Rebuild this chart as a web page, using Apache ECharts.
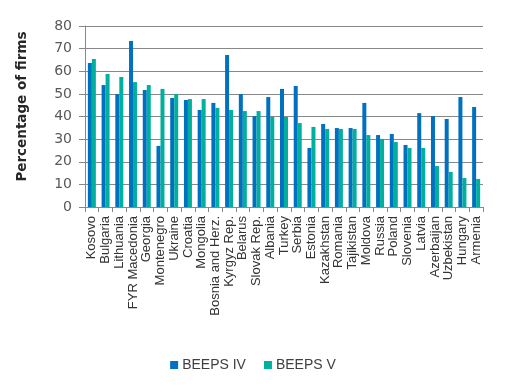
<!DOCTYPE html>
<html>
<head>
<meta charset="utf-8">
<script src="https://cdn.jsdelivr.net/npm/echarts@6/dist/echarts.min.js"></script>
<style>html,body{margin:0;padding:0;background:#fff;}#c{width:506px;height:392px;}</style>
</head>
<body>
<div id="c"></div>
<script>
const categories = ["Kosovo","Bulgaria","Lithuania","FYR Macedonia","Georgia","Montenegro","Ukraine","Croatia","Mongolia","Bosnia and Herz.","Kyrgyz Rep.","Belarus","Slovak Rep.","Albania","Turkey","Serbia","Estonia","Kazakhstan","Romania","Tajikistan","Moldova","Russia","Poland","Slovenia","Latvia","Azerbaijan","Uzbekistan","Hungary","Armenia"];
const beepsIV = [63.6,53.9,49.9,73.4,51.7,27.0,48.2,47.3,42.9,46.0,67.2,49.9,40.2,48.6,52.2,53.5,26.1,36.7,34.9,34.9,46.0,31.8,32.3,27.4,41.5,40.2,38.9,48.6,44.2];
const beepsV = [65.4,58.8,57.5,55.2,53.9,52.2,49.9,47.7,47.7,43.8,42.9,42.4,42.4,39.8,39.8,37.1,35.4,34.5,34.5,34.5,31.8,30.1,28.7,26.1,26.1,18.1,15.5,12.8,12.4];
const yTicks = [0,10,20,30,40,50,60,70,80];

const chart = echarts.init(document.getElementById('c'), null, {renderer:'canvas'});
chart.setOption({
  animation:false,
  grid:{left:85,right:23,top:26,bottom:185,containLabel:false},
  legend:{
    data:['BEEPS IV','BEEPS V'],
    bottom:15,left:'center',
    icon:'rect',itemWidth:8,itemHeight:8,itemGap:18,
    textStyle:{fontFamily:'Liberation Sans, Arial',fontSize:14,color:'#404040',padding:[0,0,0,-1]}
  },
  xAxis:{
    type:'category',data:categories,
    axisLine:{lineStyle:{color:'#888',width:1}},
    axisTick:{show:true,alignWithLabel:false,length:5,lineStyle:{color:'#888'}},
    axisLabel:{rotate:90,interval:0,margin:9,fontFamily:'Liberation Sans, Arial',fontSize:13,color:'#333'}
  },
  yAxis:{
    type:'value',min:yTicks[0],max:yTicks[yTicks.length-1],interval:10,
    name:'Percentage of firms',nameLocation:'middle',nameGap:56,nameRotate:90,
    nameTextStyle:{fontFamily:'DejaVu Sans',fontWeight:'bold',fontSize:13.5,color:'#262626',padding:[0,0,0,20]},
    axisLine:{show:true,lineStyle:{color:'#888',width:1}},
    axisTick:{show:true,length:6,lineStyle:{color:'#888'}},
    axisLabel:{margin:13,fontFamily:'DejaVu Sans',fontSize:14,color:'#595959'},
    splitLine:{lineStyle:{color:'#888',width:1}}
  },
  series:[
    {name:'BEEPS IV',type:'bar',data:beepsIV,barWidth:4,barGap:'0%',itemStyle:{color:'#0070C0'}},
    {name:'BEEPS V',type:'bar',data:beepsV,barWidth:4,barGap:'0%',itemStyle:{color:'#00AF9E'}}
  ]
});
</script>
</body>
</html>
